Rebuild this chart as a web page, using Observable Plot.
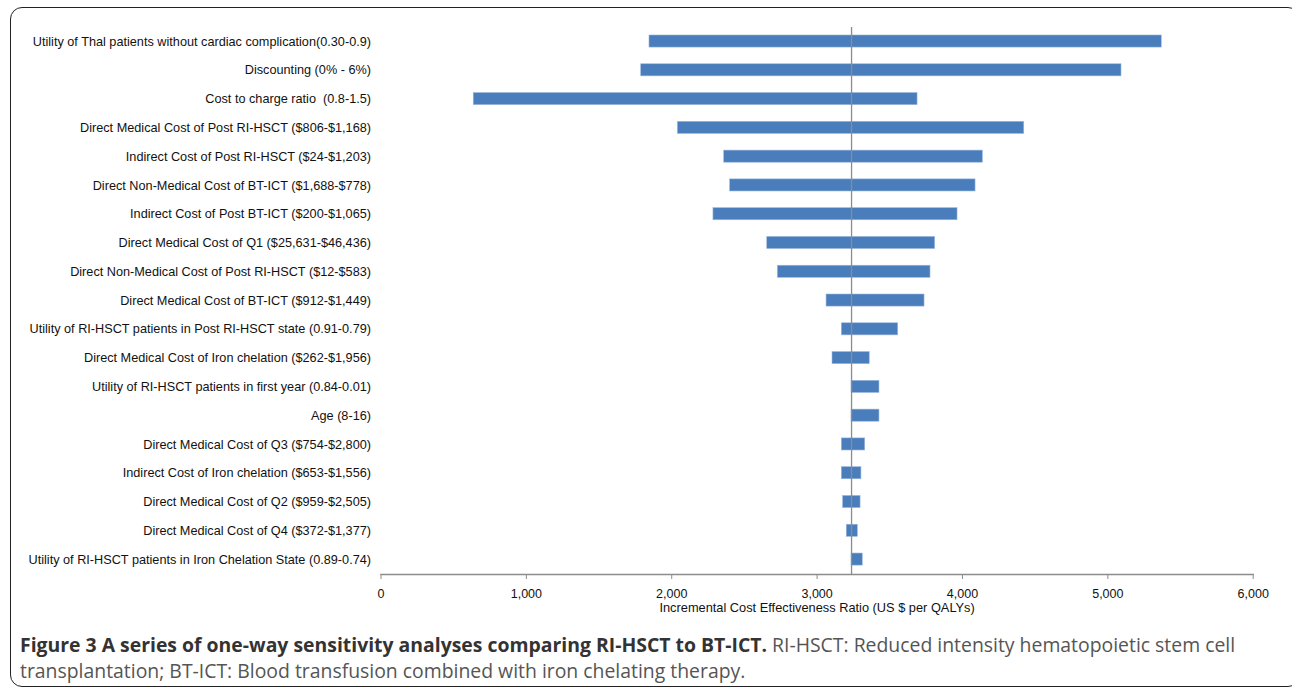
<!DOCTYPE html>
<html>
<head>
<meta charset="utf-8">
<script src="https://cdn.jsdelivr.net/npm/d3@7"></script>
<script src="https://cdn.jsdelivr.net/npm/@observablehq/plot@0.6"></script>
<style>
  html, body { margin: 0; padding: 0; background: #fff; }
  #wrap { position: relative; width: 1292px; height: 691px; overflow: hidden; }
  #border { position: absolute; left: 10px; top: 7px; width: 1290px; height: 680px;
            border: 1.6px solid #222; border-radius: 12px; box-sizing: border-box; }
  #chart { position: absolute; left: 0; top: 0; }
  #caption { position: absolute; left: 20px; top: 632px; width: 1260px;
             font-family: "Open Sans", sans-serif; font-size: 19.4px; line-height: 26px; color: #555; }
  #caption b { color: #333; }
  svg text { font-family: "Liberation Sans", Arial, sans-serif; }
</style>
</head>
<body>
<div id="wrap">
  <div id="border"></div>
  <div id="chart"></div>
  <div id="caption"><b>Figure 3 A series of one-way sensitivity analyses comparing RI-HSCT to BT-ICT.</b> RI-HSCT: Reduced intensity hematopoietic stem cell transplantation; BT-ICT: Blood transfusion combined with iron chelating therapy.</div>
</div>
<script>
const parameters = [
  "Utility of Thal patients without cardiac complication(0.30-0.9)",
  "Discounting (0% - 6%)",
  "Cost to charge ratio  (0.8-1.5)",
  "Direct Medical Cost of Post RI-HSCT ($806-$1,168)",
  "Indirect Cost of Post RI-HSCT ($24-$1,203)",
  "Direct Non-Medical Cost of BT-ICT ($1,688-$778)",
  "Indirect Cost of Post BT-ICT ($200-$1,065)",
  "Direct Medical Cost of Q1 ($25,631-$46,436)",
  "Direct Non-Medical Cost of Post RI-HSCT ($12-$583)",
  "Direct Medical Cost of BT-ICT ($912-$1,449)",
  "Utility of RI-HSCT patients in Post RI-HSCT state (0.91-0.79)",
  "Direct Medical Cost of Iron chelation ($262-$1,956)",
  "Utility of RI-HSCT patients in first year (0.84-0.01)",
  "Age (8-16)",
  "Direct Medical Cost of Q3 ($754-$2,800)",
  "Indirect Cost of Iron chelation ($653-$1,556)",
  "Direct Medical Cost of Q2 ($959-$2,505)",
  "Direct Medical Cost of Q4 ($372-$1,377)",
  "Utility of RI-HSCT patients in Iron Chelation State (0.89-0.74)"
];
const lowValues = [1847, 1790, 638, 2042, 2361, 2402, 2287, 2657, 2730, 3065, 3170, 3106, 3237, 3237, 3170, 3170, 3179, 3204, 3237];
const highValues = [5371, 5094, 3691, 4425, 4140, 4090, 3966, 3812, 3780, 3739, 3558, 3362, 3429, 3429, 3331, 3305, 3299, 3280, 3314];
const baseCase = 3237;
const xTicks = [0, 1000, 2000, 3000, 4000, 5000, 6000];
const xTitle = "Incremental Cost Effectiveness Ratio (US $ per QALYs)";

const rows = parameters.map((p, i) => ({parameter: p, low: lowValues[i], high: highValues[i]}));

const chart = Plot.plot({
  width: 1292,
  height: 620,
  marginLeft: 380.5,
  marginRight: 39.3,
  marginTop: 27,
  marginBottom: 46,
  style: {fontFamily: "'Liberation Sans', Arial, sans-serif", fontSize: "12px", color: "#111", background: "transparent"},
  x: {domain: [0, 6000]},
  y: {domain: parameters, padding: 0.58, round: false, insetTop: -8.7, insetBottom: -7.8},
  marks: [
    Plot.barX(rows, {x1: "low", x2: "high", y: "parameter", fill: "#4a7dbb", stroke: "#9bb7dc", strokeWidth: 0.6}),
    Plot.ruleX([baseCase], {stroke: "#8c8c8c", strokeWidth: 1.3}),
    Plot.frame({anchor: "bottom", stroke: "#8c8c8c", strokeWidth: 1.3}),
    Plot.axisX({ticks: xTicks, tickFormat: d3.format(","), tickSize: 5, tickPadding: 10, stroke: "#8c8c8c", label: null, fontSize: 12.5}),
    Plot.axisY({tickSize: 0, tickPadding: 10, label: null, fontSize: 12.7}),
    Plot.text([xTitle], {frameAnchor: "bottom", dy: 37, fontSize: 12.8, fill: "#111"})
  ]
});
document.getElementById("chart").appendChild(chart);
</script>
</body>
</html>
